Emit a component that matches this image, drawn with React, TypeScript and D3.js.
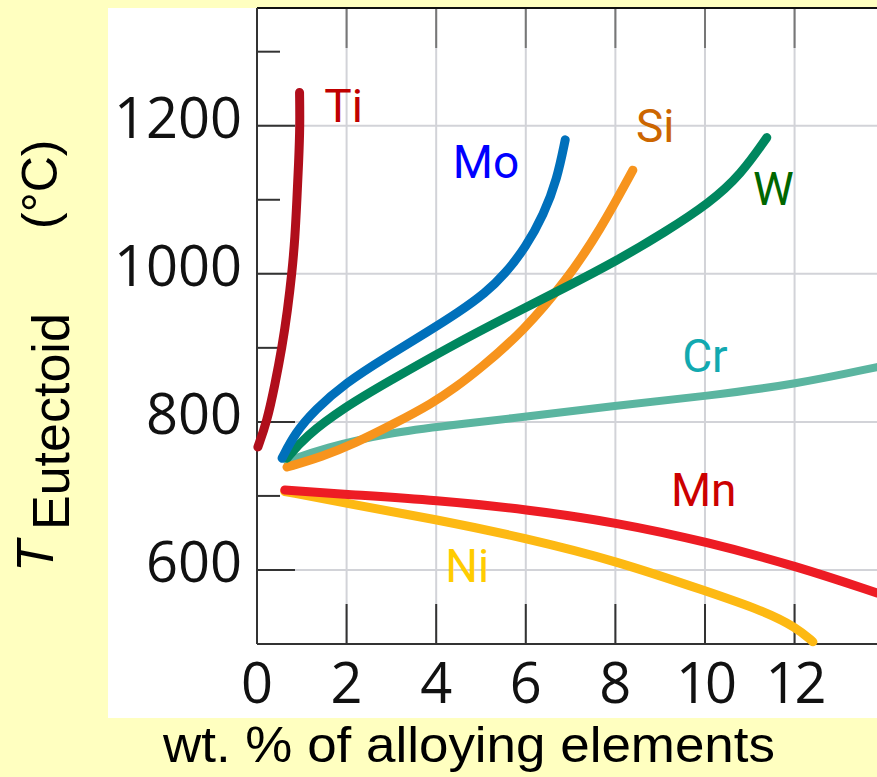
import React from "react";
import * as d3 from "d3";

// wt.% of alloying element vs eutectoid temperature (°C)
const ti: [number, number][] = [
  [0.02, 766], [0.22, 800], [0.4, 850], [0.56, 901], [0.68, 950],
  [0.78, 1001], [0.85, 1050], [0.89, 1100], [0.93, 1150], [0.96, 1201], [0.95, 1245],
];
const mo: [number, number][] = [
  [0.56, 751], [0.85, 785], [1.29, 816], [1.96, 852], [2.92, 889], [3.82, 922],
  [4.5, 948], [5.1, 974], [5.54, 1000], [6.0, 1036], [6.4, 1080], [6.7, 1128], [6.88, 1181],
];
const w: [number, number][] = [
  [0.67, 751], [1.07, 780], [1.96, 820], [2.92, 854], [4.26, 900], [5.58, 942],
  [6.9, 982], [8.04, 1018], [9.1, 1056], [10.11, 1096], [10.8, 1134], [11.38, 1184],
];
const si: [number, number][] = [
  [0.67, 739], [1.45, 753], [2.19, 771], [3.08, 798], [3.91, 825], [4.42, 846],
  [4.98, 872], [5.94, 922], [6.92, 992], [7.66, 1059], [8.39, 1140],
];
const cr: [number, number][] = [
  [0.67, 747], [1.5, 765], [2.92, 785], [4.42, 796], [5.42, 803], [8.04, 822],
  [10.04, 835], [12.05, 851], [13.84, 874],
];
const mn: [number, number][] = [
  [0.62, 708], [2.0, 702], [4.02, 694], [6.0, 682], [8.04, 664],
  [10.04, 638], [12.05, 605], [13.84, 569],
];
const ni: [number, number][] = [
  [0.62, 706], [2.0, 690], [4.02, 668], [6.0, 643], [8.04, 612],
  [10.04, 571], [11.3, 545], [12.05, 522], [12.41, 503],
];

const series = [
  { name: "Cr", pts: cr, stroke: "#5bb5a0", label: "#12a9b0", lx: 9.49, ly: 867 },
  { name: "Ni", pts: ni, stroke: "#fdb913", label: "#ffcc00", lx: 4.2, ly: 584 },
  { name: "Mn", pts: mn, stroke: "#ed1c24", label: "#cc0000", lx: 9.24, ly: 686 },
  { name: "Si", pts: si, stroke: "#f7941d", label: "#cc6600", lx: 8.46, ly: 1178 },
  { name: "W", pts: w, stroke: "#00875f", label: "#006600", lx: 11.07, ly: 1093 },
  { name: "Mo", pts: mo, stroke: "#0070bb", label: "#0000ff", lx: 4.37, ly: 1129 },
  { name: "Ti", pts: ti, stroke: "#b00e1b", label: "#c00000", lx: 1.5, ly: 1205 },
];

const xTicks = [0, 2, 4, 6, 8, 10, 12];
const yMajor = [600, 800, 1000, 1200];
const yMinor = [700, 900, 1100, 1300];

export default function App() {
  const width = 877;
  const height = 777;
  const left = 257;
  const top = 8;
  const bottom = 644;

  const x = d3.scaleLinear().domain([0, 13.84]).range([left, width]);
  const y = d3.scaleLinear().domain([500, 1359]).range([bottom, top]);

  const line = d3
    .line<[number, number]>()
    .x((d) => x(d[0]))
    .y((d) => y(d[1]))
    .curve(d3.curveBasis);

  const grid = "#d2d3d8";
  const ax = "#333";

  return (
    <svg
      width={width}
      height={height}
      style={{ position: "absolute", left: 0, top: 0, display: "block" }}
    >
      <rect x={0} y={0} width={width} height={height} fill="#ffffc0" />
      <rect x={108} y={top} width={width - 108} height={718 - top} fill="#fff" />

      {/* grid */}
      {xTicks.slice(1).map((t) => (
        <line key={"gx" + t} x1={x(t)} x2={x(t)} y1={top} y2={bottom} stroke={grid} strokeWidth={2} />
      ))}
      {yMajor.map((t) => (
        <line key={"gy" + t} x1={left} x2={width} y1={y(t)} y2={y(t)} stroke={grid} strokeWidth={2} />
      ))}

      {/* ticks */}
      {xTicks.slice(1).map((t) => (
        <g key={"tx" + t}>
          <line x1={x(t)} x2={x(t)} y1={bottom} y2={bottom - 40} stroke={ax} strokeWidth={2} />
          <line x1={x(t)} x2={x(t)} y1={top} y2={top + 40} stroke="#777" strokeWidth={2} />
        </g>
      ))}
      {yMajor.map((t) => (
        <line key={"ty" + t} x1={left} x2={left + 38} y1={y(t)} y2={y(t)} stroke={ax} strokeWidth={2} />
      ))}
      {yMinor.map((t) => (
        <line key={"tm" + t} x1={left} x2={left + 23} y1={y(t)} y2={y(t)} stroke={ax} strokeWidth={2} />
      ))}

      {/* frame */}
      <line x1={left} x2={width} y1={top} y2={top} stroke="#111" strokeWidth={2} />
      <line x1={left} x2={left} y1={top} y2={bottom} stroke={ax} strokeWidth={2} />
      <line x1={left} x2={width} y1={bottom} y2={bottom} stroke={ax} strokeWidth={2} />

      {/* curves */}
      {series.map((s) => (
        <path
          key={s.name}
          d={line(s.pts) || ""}
          fill="none"
          stroke={s.stroke}
          strokeWidth={s.name === "Cr" ? 8 : 9}
          strokeLinecap="round"
        />
      ))}

      {/* curve labels */}
      <g fontFamily="Roboto, Arial, sans-serif" fontSize={46}>
        {series.map((s) => (
          <text key={"l" + s.name} x={x(s.lx)} y={y(s.ly)} fill={s.label}>
            {s.name}
          </text>
        ))}
      </g>

      {/* tick labels */}
      <g fontFamily="'Open Sans', sans-serif" fontSize={56} fill="#111">
        {yMajor.map((t) => (
          <text key={"yl" + t} x={242} y={y(t) + 12} textAnchor="end">
            {t}
          </text>
        ))}
        {xTicks.map((t) => (
          <text key={"xl" + t} x={x(t)} y={703} textAnchor="middle" letterSpacing={t >= 10 ? -3 : 0}>
            {t}
          </text>
        ))}
      </g>

      {/* axis titles */}
      <text
        x={469}
        y={762}
        textAnchor="middle"
        fontFamily="'Liberation Sans', Arial, sans-serif"
        fontSize={50}
        textLength={612}
        lengthAdjust="spacingAndGlyphs"
      >
        wt. % of alloying elements
      </text>
      <g fontFamily="'Liberation Sans', Arial, sans-serif" fontSize={52}>
        <text transform="translate(53,572) rotate(-90)" fontStyle="italic">
          T
        </text>
        <text transform="translate(69,530) rotate(-90)">Eutectoid</text>
        <text transform="translate(57,229) rotate(-90)" fontSize={50}>
          (°C)
        </text>
      </g>
    </svg>
  );
}
